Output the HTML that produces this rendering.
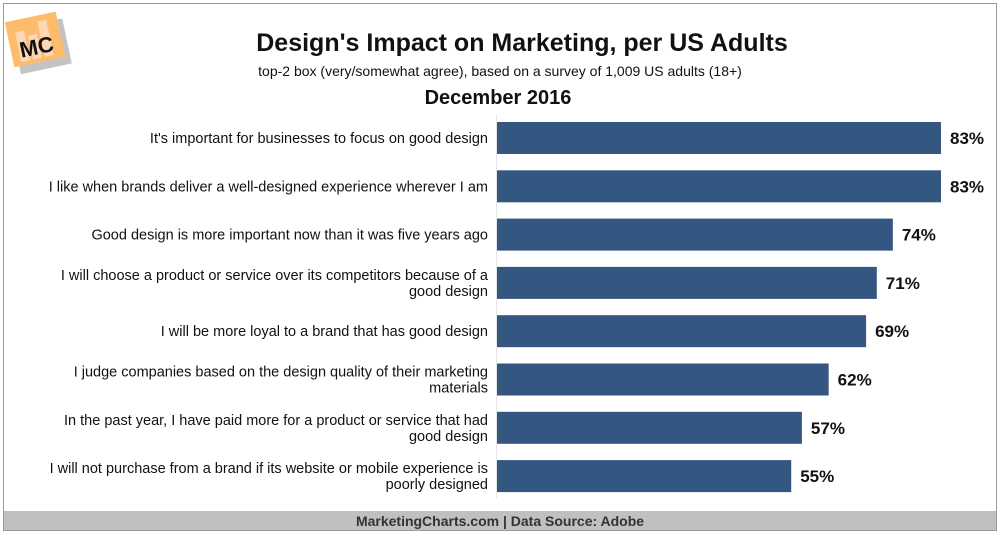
<!DOCTYPE html>
<html><head><meta charset="utf-8">
<style>
html,body{margin:0;padding:0;background:#fff;}
body{width:1000px;height:535px;overflow:hidden;font-family:"Liberation Sans",sans-serif;}
</style></head>
<body>
<svg id="chart" width="1000" height="535" xmlns="http://www.w3.org/2000/svg" font-family="Liberation Sans, sans-serif">
  <rect x="3.5" y="3.5" width="993" height="527" fill="#fff" stroke="#999" stroke-width="1"/>
  <g transform="translate(0,4) rotate(-12 38 40)">
    <rect x="12" y="16" width="52" height="46" fill="#aaa" opacity="0.7" transform="translate(3,4)"/>
    <rect x="10" y="12" width="52" height="46" fill="#fdbb6c"/>
    <rect x="18" y="24" width="9" height="30" fill="#fbd9b6"/>
    <rect x="30" y="30" width="9" height="24" fill="#fbd9b6"/>
    <rect x="42" y="18" width="9" height="36" fill="#fbd9b6"/>
    <text x="36" y="50" text-anchor="middle" font-size="22" font-weight="bold" fill="#111">MC</text>
  </g>
  <text x="522" y="51" text-anchor="middle" font-size="25" font-weight="bold" fill="#111">Design's Impact on Marketing, per US Adults</text>
  <text x="500" y="76" text-anchor="middle" font-size="14" fill="#111">top-2 box (very/somewhat agree), based on a survey of 1,009 US adults (18+)</text>
  <text x="498" y="104" text-anchor="middle" font-size="20" font-weight="bold" fill="#111">December 2016</text>
  <line x1="496.5" y1="114" x2="496.5" y2="498" stroke="#e6e6e6"/>
  <g id="bars"></g>
  <rect x="4" y="511" width="992" height="19" fill="#c0c0c0"/>
  <text x="500" y="526" text-anchor="middle" font-size="14" font-weight="bold" fill="#333">MarketingCharts.com | Data Source: Adobe</text>
</svg>
<script>
const categories = [
  ["It's important for businesses to focus on good design"],
  ["I like when brands deliver a well-designed experience wherever I am"],
  ["Good design is more important now than it was five years ago"],
  ["I will choose a product or service over its competitors because of a","good design"],
  ["I will be more loyal to a brand that has good design"],
  ["I judge companies based on the design quality of their marketing","materials"],
  ["In the past year, I have paid more for a product or service that had","good design"],
  ["I will not purchase from a brand if its website or mobile experience is","poorly designed"]
];
const values = [83, 83, 74, 71, 69, 62, 57, 55];
const valueLabels = ["83%","83%","74%","71%","69%","62%","57%","55%"];

const NS = "http://www.w3.org/2000/svg";
const g = document.getElementById('bars');
const x0 = 497, pxPer = 444/83;
const xScale = v => v * pxPer;
const yBand = i => 122 + i * 48.3;
const bh = 32;
values.forEach((v, i) => {
  const y = yBand(i);
  const r = document.createElementNS(NS, 'rect');
  
  
  r.setAttribute('x', x0); r.setAttribute('y', y);
  r.setAttribute('width', xScale(v)); r.setAttribute('height', bh);
  r.setAttribute('fill', '#335780');
  g.appendChild(r);
  const t = document.createElementNS(NS, 'text');
  
  
  t.setAttribute('x', x0 + xScale(v) + 9); t.setAttribute('y', y + bh/2 + 6);
  t.setAttribute('font-size', '17'); t.setAttribute('font-weight', 'bold'); t.setAttribute('fill', '#111');
  t.textContent = valueLabels[i];
  g.appendChild(t);
  const lines = categories[i];
  lines.forEach((ln, j) => {
    const c = document.createElementNS(NS, 'text');
    
    
    const cy = y + bh/2 + 5 + (lines.length === 2 ? (j === 0 ? -8 : 8) : 0);
    c.setAttribute('x', 488); c.setAttribute('y', cy);
    c.setAttribute('text-anchor', 'end'); c.setAttribute('font-size', '14.5'); c.setAttribute('fill', '#111');
    c.textContent = ln;
    g.appendChild(c);
  });
});
</script>
</body></html>
